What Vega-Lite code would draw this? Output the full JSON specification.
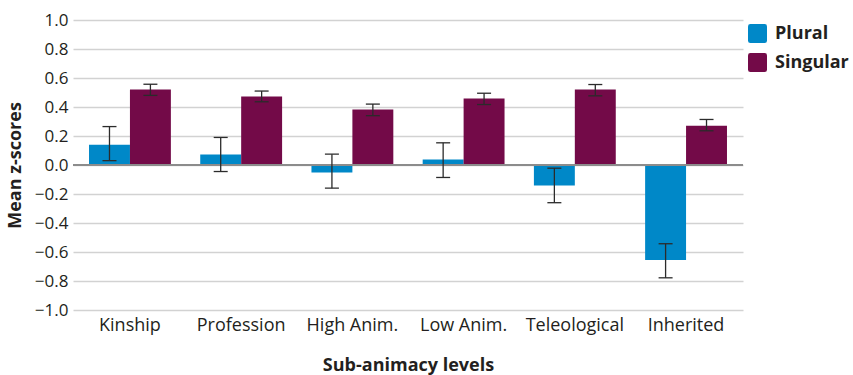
{
  "$schema": "https://vega.github.io/schema/vega-lite/v6.json",
  "width": 670,
  "height": 290,
  "autosize": "none",
  "padding": {"left": 73, "top": 20, "right": 110, "bottom": 65},
  "background": "white",
  "config": {
    "font": "Open Sans",
    "view": {"stroke": null},
    "axis": {"labelColor": "#231f20", "titleColor": "#231f20"}
  },
  "resolve": {"axis": {"y": "independent"}},
  "data": {
    "values": [
      {"level": "Kinship", "number": "Plural", "mean": 0.14, "lo": 0.03, "hi": 0.265},
      {"level": "Kinship", "number": "Singular", "mean": 0.52, "lo": 0.48, "hi": 0.557},
      {"level": "Profession", "number": "Plural", "mean": 0.072, "lo": -0.045, "hi": 0.19},
      {"level": "Profession", "number": "Singular", "mean": 0.472, "lo": 0.436, "hi": 0.51},
      {"level": "High Anim.", "number": "Plural", "mean": -0.052, "lo": -0.16, "hi": 0.075},
      {"level": "High Anim.", "number": "Singular", "mean": 0.383, "lo": 0.34, "hi": 0.42},
      {"level": "Low Anim.", "number": "Plural", "mean": 0.038, "lo": -0.086, "hi": 0.153},
      {"level": "Low Anim.", "number": "Singular", "mean": 0.459, "lo": 0.417, "hi": 0.495},
      {"level": "Teleological", "number": "Plural", "mean": -0.141, "lo": -0.26, "hi": -0.022},
      {"level": "Teleological", "number": "Singular", "mean": 0.52, "lo": 0.477, "hi": 0.555},
      {"level": "Inherited", "number": "Plural", "mean": -0.656, "lo": -0.778, "hi": -0.543},
      {"level": "Inherited", "number": "Singular", "mean": 0.27, "lo": 0.236, "hi": 0.314}
    ]
  },
  "encoding": {
    "x": {
      "field": "level",
      "type": "nominal",
      "sort": null,
      "scale": {"paddingInner": 0.264, "paddingOuter": 0.144},
      "axis": {
        "title": "Sub-animacy levels",
        "titleFontSize": 18,
        "titleFontWeight": "bold",
        "titlePadding": 22,
        "labelFontSize": 18,
        "labelAngle": 0,
        "labelPadding": 6,
        "labelOverlap": false,
        "ticks": false,
        "domain": false
      }
    },
    "xOffset": {"field": "number", "type": "nominal", "sort": ["Plural", "Singular"]}
  },
  "layer": [
    {
      "mark": {"type": "bar"},
      "encoding": {
        "y": {
          "field": "mean",
          "type": "quantitative",
          "scale": {"domain": [-1, 1], "nice": false},
          "axis": {
            "title": "Mean z-scores",
            "titleFontSize": 18,
            "titleFontWeight": "bold",
            "titlePadding": 10,
            "values": [-1, -0.8, -0.6, -0.4, -0.2, 0, 0.2, 0.4, 0.6, 0.8, 1],
            "format": ".1f",
            "labelFontSize": 17,
            "labelPadding": 5,
            "labelOverlap": false,
            "labelBound": false,
            "ticks": false,
            "domain": false,
            "grid": true,
            "gridColor": "#d2d2d2",
            "gridWidth": 1.5
          }
        },
        "color": {
          "field": "number",
          "type": "nominal",
          "scale": {"domain": ["Plural", "Singular"], "range": ["#0088c8", "#730a48"]},
          "legend": {
            "title": null,
            "orient": "none",
            "legendX": 675,
            "legendY": 4,
            "symbolType": "M-0.75,-1L0.75,-1Q1,-1 1,-0.75L1,0.75Q1,1 0.75,1L-0.75,1Q-1,1 -1,0.75L-1,-0.75Q-1,-1 -0.75,-1Z",
            "symbolSize": 361,
            "symbolStrokeWidth": 0,
            "symbolOpacity": 1,
            "labelFontSize": 18,
            "labelFontWeight": "bold",
            "labelColor": "#231f20",
            "labelOffset": 8,
            "rowPadding": 10
          }
        }
      }
    },
    {
      "mark": {"type": "rule", "color": "#8c8c8c", "strokeWidth": 1.5},
      "encoding": {"y": {"datum": 0, "axis": null}, "x": null, "xOffset": null}
    },
    {
      "mark": {"type": "rule", "color": "#2b2b2b", "strokeWidth": 1.3},
      "encoding": {
        "y": {"field": "lo", "type": "quantitative", "axis": null},
        "y2": {"field": "hi"}
      }
    },
    {
      "mark": {"type": "tick", "color": "#2b2b2b", "thickness": 1.3, "size": 14, "orient": "horizontal", "opacity": 1},
      "encoding": {"y": {"field": "lo", "type": "quantitative", "axis": null}}
    },
    {
      "mark": {"type": "tick", "color": "#2b2b2b", "thickness": 1.3, "size": 14, "orient": "horizontal", "opacity": 1},
      "encoding": {"y": {"field": "hi", "type": "quantitative", "axis": null}}
    }
  ]
}
